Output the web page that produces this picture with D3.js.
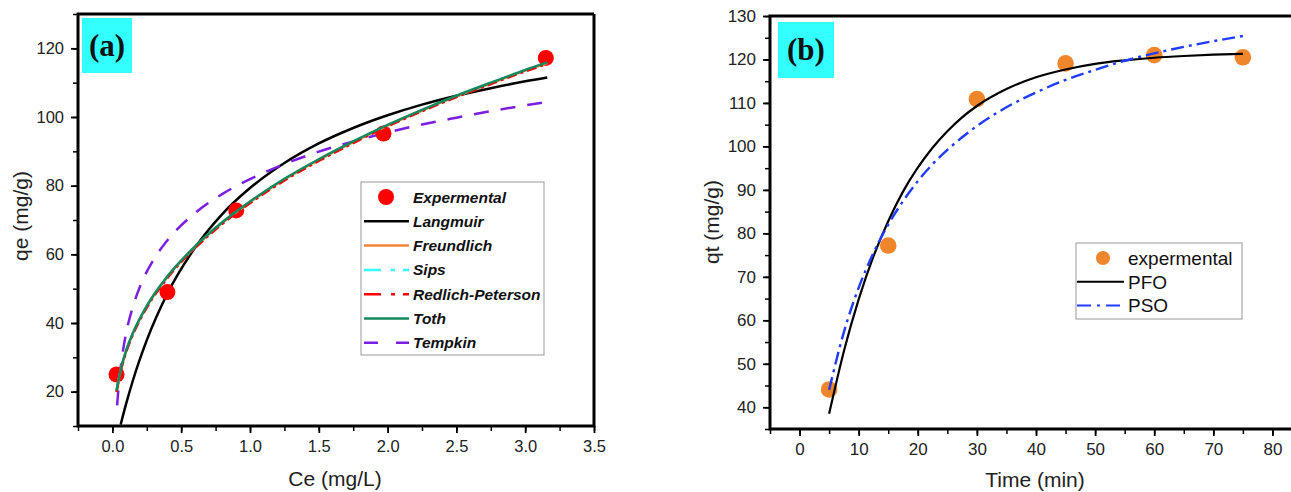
<!DOCTYPE html>
<html>
<head>
<meta charset="utf-8">
<script src="https://cdn.jsdelivr.net/npm/d3@7"></script>
<style>
  body { margin: 0; background: #fff; }
  text { font-family: Arial, "Liberation Sans", sans-serif; }
</style>
</head>
<body>
<div id="chart"></div>
<script>
// donnees panneau (a) : isothermes
const ceExp = [0.03, 0.40, 0.90, 1.97, 3.15];
const qeExp = [25.0, 49.0, 72.8, 95.2, 117.2];

const ceFit = [0.03, 0.06, 0.1, 0.15, 0.25, 0.4, 0.6, 0.8, 1.0, 1.25, 1.5, 1.75, 2.0, 2.25, 2.5, 2.75, 3.0, 3.16];
const langmuir = [null, 10.4, 16.5, 23.4, 35.0, 48.6, 61.9, 71.8, 79.3, 86.6, 92.3, 96.8, 100.5, 103.6, 106.2, 108.4, 110.4, 111.5];
const freundlich = [20.2, 26.2, 31.8, 37.0, 44.8, 53.4, 62.1, 69.2, 75.2, 81.8, 87.5, 92.7, 97.5, 101.9, 106.0, 109.8, 113.5, 115.7];
const sips = [20.1, 26.1, 31.7, 36.9, 44.7, 53.3, 62.0, 69.1, 75.1, 81.7, 87.4, 92.6, 97.4, 101.8, 105.9, 109.7, 113.4, 115.6];
const redlichPeterson = [19.9, 25.9, 31.5, 36.7, 44.5, 53.1, 61.8, 68.9, 74.9, 81.5, 87.2, 92.4, 97.3, 101.7, 105.8, 109.6, 113.3, 115.5];
const toth = [20.3, 26.4, 32.0, 37.2, 45.0, 53.6, 62.3, 69.4, 75.4, 82.0, 87.7, 92.9, 97.7, 102.1, 106.2, 110.0, 113.7, 115.9];

const ceTempkin = [0.034, 0.05, 0.075, 0.1, 0.15, 0.2, 0.3, 0.4, 0.6, 0.8, 1.0, 1.25, 1.5, 1.75, 2.0, 2.25, 2.5, 2.75, 3.0, 3.16];
const tempkin = [16.0, 23.5, 31.4, 37.1, 44.9, 50.6, 58.5, 64.1, 72.0, 77.6, 81.9, 86.3, 89.9, 92.9, 95.5, 97.8, 99.8, 101.7, 103.4, 104.4];

// donnees panneau (b) : cinetique
const timeExp = [5, 15, 30, 45, 60, 75];
const qtExp = [44.1, 77.2, 110.9, 119.1, 121.0, 120.5];

const timeFit = [5, 7.5, 10, 12.5, 15, 17.5, 20, 22.5, 25, 27.5, 30, 35, 40, 45, 50, 55, 60, 65, 70, 75];
const pfo = [38.5, 52.9, 64.8, 74.7, 82.8, 89.6, 95.1, 99.7, 103.5, 106.7, 109.3, 113.2, 115.9, 117.7, 119.0, 119.8, 120.4, 120.8, 121.1, 121.3];
const pso = [44.0, 57.3, 67.5, 75.5, 82.0, 87.4, 92.0, 95.9, 99.2, 102.1, 104.7, 109.0, 112.4, 115.3, 117.6, 119.7, 121.4, 122.9, 124.2, 125.4];

// graduations
const ceTicks = [0.0, 0.5, 1.0, 1.5, 2.0, 2.5, 3.0, 3.5];
const qeTicks = [20, 40, 60, 80, 100, 120];
const timeTicks = [0, 10, 20, 30, 40, 50, 60, 70, 80];
const qtTicks = [40, 50, 60, 70, 80, 90, 100, 110, 120, 130];

const width = 1291, height = 492;

const svg = d3.select("#chart").append("svg")
    .attr("width", width)
    .attr("height", height);

// ---------- panneau (a) ----------
const xa = d3.scaleLinear().domain([-0.25, 3.5]).range([78, 594]);
const ya = d3.scaleLinear().domain([10, 130]).range([426, 14]);

drawAxes(xa, ya, ceTicks, d3.range(-0.25, 3.51, 0.25), qeTicks, d3.range(10, 131, 10), d3.format(".1f"), d3.format("d"), true, "16.5px");

const ga = svg.append("g");
const lineA = (xs, ys) => d3.line()
    .defined((d, i) => ys[i] != null)
    .x((d, i) => xa(xs[i]))
    .y((d, i) => ya(ys[i]))
    .curve(d3.curveMonotoneX)(xs);

ga.append("path").attr("d", lineA(ceFit, langmuir))
    .attr("fill", "none").attr("stroke", "#000").attr("stroke-width", 2.5);
ga.append("path").attr("d", lineA(ceTempkin, tempkin))
    .attr("fill", "none").attr("stroke", "#7a1fe0").attr("stroke-width", 2.5)
    .attr("stroke-dasharray", "15,12");

ga.selectAll("circle")
    .data(ceExp)
    .enter().append("circle")
    .attr("cx", d => xa(d))
    .attr("cy", (d, i) => ya(qeExp[i]))
    .attr("r", 8)
    .attr("fill", "#ff0000");

ga.append("path").attr("d", lineA(ceFit, freundlich))
    .attr("fill", "none").attr("stroke", "#f5873a").attr("stroke-width", 2.5);
ga.append("path").attr("d", lineA(ceFit, sips))
    .attr("fill", "none").attr("stroke", "#33ffff").attr("stroke-width", 2.5)
    .attr("stroke-dasharray", "10,4,3,4");
ga.append("path").attr("d", lineA(ceFit, redlichPeterson))
    .attr("fill", "none").attr("stroke", "#ff0000").attr("stroke-width", 2.5)
    .attr("stroke-dasharray", "10,4,3,4");
ga.append("path").attr("d", lineA(ceFit, toth))
    .attr("fill", "none").attr("stroke", "#128a5e").attr("stroke-width", 2.5);

// legende (a)
const legA = svg.append("g").attr("transform", "translate(361, 182)");
legA.append("rect")
    .attr("width", 183).attr("height", 173)
    .attr("fill", "#fff").attr("stroke", "#999").attr("stroke-width", 1);
const legendA = [
    {name: "Expermental", color: "#ff0000", dot: true},
    {name: "Langmuir", color: "#000"},
    {name: "Freundlich", color: "#f5873a"},
    {name: "Sips", color: "#33ffff", dash: "17,10,4,8"},
    {name: "Redlich-Peterson", color: "#ff0000", dash: "17,10,4,8"},
    {name: "Toth", color: "#128a5e"},
    {name: "Tempkin", color: "#7a1fe0", dash: "14,18"}
];
legendA.forEach(function(e, i) {
    const yy = 15 + i * 24.3;
    if (e.dot) {
        legA.append("circle").attr("cx", 25).attr("cy", yy).attr("r", 8).attr("fill", e.color);
    } else {
        legA.append("line")
            .attr("x1", 3).attr("x2", 48).attr("y1", yy).attr("y2", yy)
            .attr("stroke", e.color).attr("stroke-width", 2.5)
            .attr("stroke-dasharray", e.dash || null);
    }
    legA.append("text")
        .attr("x", 52).attr("y", yy + 5.5)
        .style("font-size", "15.5px").style("font-weight", "bold").style("font-style", "italic")
        .style("fill", "#111")
        .text(e.name);
});

panelLabel(82, 18, 50, 55, "(a)");

svg.append("text")
    .attr("x", 335).attr("y", 486)
    .attr("text-anchor", "middle")
    .style("font-size", "21px").style("fill", "#222")
    .text("Ce (mg/L)");
svg.append("text")
    .attr("transform", "translate(28, 216) rotate(-90)")
    .attr("text-anchor", "middle")
    .style("font-size", "21px").style("fill", "#222")
    .text("qe (mg/g)");

// ---------- panneau (b) ----------
const xb = d3.scaleLinear().domain([-5, 85]).range([770, 1302]);
const yb = d3.scaleLinear().domain([35, 130]).range([429, 16]);

drawAxes(xb, yb, timeTicks, d3.range(-5, 86, 5), qtTicks, d3.range(35, 131, 5), d3.format("d"), d3.format("d"), false, "17px");

const gb = svg.append("g");
const lineB = (xs, ys) => d3.line()
    .x((d, i) => xb(xs[i]))
    .y((d, i) => yb(ys[i]))
    .curve(d3.curveMonotoneX)(xs);

gb.selectAll("circle")
    .data(timeExp)
    .enter().append("circle")
    .attr("cx", d => xb(d))
    .attr("cy", (d, i) => yb(qtExp[i]))
    .attr("r", 8.3)
    .attr("fill", "#f0862c");

gb.append("path").attr("d", lineB(timeFit, pfo))
    .attr("fill", "none").attr("stroke", "#000").attr("stroke-width", 2.2);
gb.append("path").attr("d", lineB(timeFit, pso))
    .attr("fill", "none").attr("stroke", "#1f3cff").attr("stroke-width", 2.4)
    .attr("stroke-dasharray", "13,5,3,5");

// legende (b)
const legB = svg.append("g").attr("transform", "translate(1076, 243)");
legB.append("rect")
    .attr("width", 166).attr("height", 76)
    .attr("fill", "#fff").attr("stroke", "#999").attr("stroke-width", 1);
const legendB = [
    {name: "expermental", color: "#f0862c", dot: true},
    {name: "PFO", color: "#000"},
    {name: "PSO", color: "#1f3cff", dash: "14,6,3,6"}
];
legendB.forEach(function(e, i) {
    const yy = 15 + i * 23.7;
    if (e.dot) {
        legB.append("circle").attr("cx", 27).attr("cy", yy).attr("r", 7).attr("fill", e.color);
    } else {
        legB.append("line")
            .attr("x1", 1).attr("x2", 48).attr("y1", yy).attr("y2", yy)
            .attr("stroke", e.color).attr("stroke-width", 2)
            .attr("stroke-dasharray", e.dash || null);
    }
    legB.append("text")
        .attr("x", 52).attr("y", yy + 7)
        .style("font-size", "19px")
        .style("fill", "#111")
        .text(e.name);
});

panelLabel(778, 22, 56, 56, "(b)");

svg.append("text")
    .attr("x", 1035).attr("y", 487)
    .attr("text-anchor", "middle")
    .style("font-size", "21px").style("fill", "#222")
    .text("Time (min)");
svg.append("text")
    .attr("transform", "translate(719, 222) rotate(-90)")
    .attr("text-anchor", "middle")
    .style("font-size", "21px").style("fill", "#222")
    .text("qt (mg/g)");

// axes + cadre
function drawAxes(x, y, xMajor, xMinor, yMajor, yMinor, fx, fy, closed, fs) {
    const x0 = x.range()[0], x1 = x.range()[1];
    const y0 = y.range()[0], y1 = y.range()[1];

    svg.append("g")
        .attr("transform", "translate(0," + y0 + ")")
        .call(d3.axisBottom(x).tickValues(xMinor).tickSize(5).tickFormat(""))
        .call(g => g.select(".domain").remove())
        .call(g => g.selectAll("line").attr("stroke-width", 1.5));
    svg.append("g")
        .attr("transform", "translate(0," + y0 + ")")
        .call(d3.axisBottom(x).tickValues(xMajor).tickSize(7).tickPadding(7).tickFormat(fx))
        .call(g => g.select(".domain").remove())
        .call(g => g.selectAll("line").attr("stroke-width", 1.8))
        .call(g => g.selectAll("text").style("font-size", fs).style("fill", "#222")
            .style("font-family", "Arial, 'Liberation Sans', sans-serif"));

    svg.append("g")
        .attr("transform", "translate(" + x0 + ",0)")
        .call(d3.axisLeft(y).tickValues(yMinor).tickSize(5).tickFormat(""))
        .call(g => g.select(".domain").remove())
        .call(g => g.selectAll("line").attr("stroke-width", 1.5));
    svg.append("g")
        .attr("transform", "translate(" + x0 + ",0)")
        .call(d3.axisLeft(y).tickValues(yMajor).tickSize(7).tickPadding(7).tickFormat(fy))
        .call(g => g.select(".domain").remove())
        .call(g => g.selectAll("line").attr("stroke-width", 1.8))
        .call(g => g.selectAll("text").style("font-size", fs).style("fill", "#222")
            .style("font-family", "Arial, 'Liberation Sans', sans-serif"));

    // cadre
    let pts = [[x1, y1], [x0, y1], [x0, y0], [x1, y0]];
    if (closed) pts.push([x1, y1]);
    svg.append("path")
        .attr("d", d3.line()(pts))
        .attr("fill", "none")
        .attr("stroke", "#000")
        .attr("stroke-width", 3);
}

function panelLabel(x, y, w, h, label) {
    svg.append("rect")
        .attr("x", x).attr("y", y).attr("width", w).attr("height", h)
        .attr("fill", "#33ffff");
    svg.append("text")
        .attr("x", x + w / 2).attr("y", y + h / 2 + 10)
        .attr("text-anchor", "middle")
        .style("font-family", "'Liberation Serif', 'DejaVu Serif', serif")
        .style("font-weight", "bold")
        .style("font-size", "31px")
        .style("fill", "#111")
        .text(label);
}
</script>
</body>
</html>
